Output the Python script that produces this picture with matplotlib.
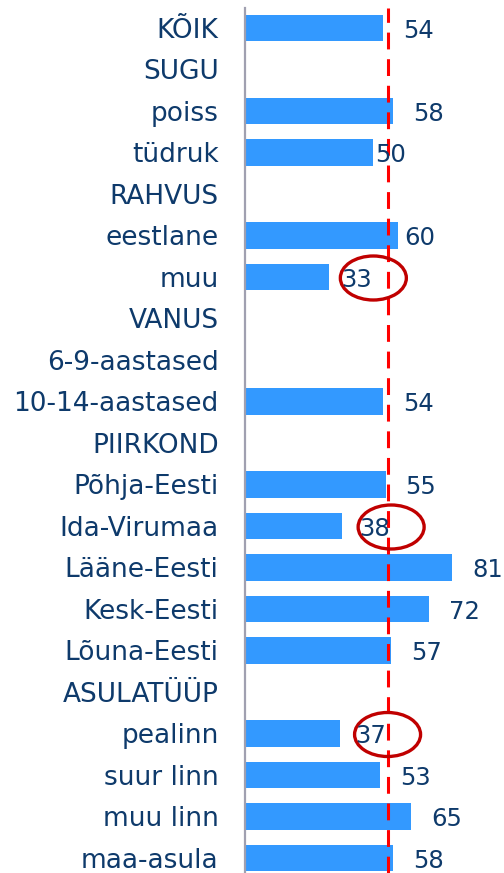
import matplotlib
matplotlib.use("Agg")
from matplotlib import pyplot as plt
from matplotlib.patches import Ellipse
import numpy as np

# kategooriad ülevalt alla, None = päise rida ilma tulbata
categories = ["KÕIK", "SUGU", "poiss", "tüdruk", "RAHVUS", "eestlane", "muu",
              "VANUS", "6-9-aastased", "10-14-aastased", "PIIRKOND", "Põhja-Eesti",
              "Ida-Virumaa", "Lääne-Eesti", "Kesk-Eesti", "Lõuna-Eesti",
              "ASULATÜÜP", "pealinn", "suur linn", "muu linn", "maa-asula"]
values = [54, None, 58, 50, None, 60, 33, None, None, 54, None, 55,
          38, 81, 72, 57, None, 37, 53, 65, 58]
average = 56
circled = ["muu", "Ida-Virumaa", "pealinn"]

# peaaegu kõik sildid on ~20px kaugusel, mõned erandid
label_offset = {"tüdruk": 2, "eestlane": 6, "muu": 12, "Ida-Virumaa": 17, "pealinn": 16}

bar_color = "#3399FF"
text_color = "#0E3A6B"

W, H = 504, 873
fig = plt.figure(figsize=(W / 100, H / 100), dpi=100)
ax = fig.add_axes([245 / W, 0, 1 - 245 / W, 1 - 8 / H])

n = len(categories)
y = np.arange(n)
step = (858 - 28) / (n - 1)
top = (8 - 28) / step
bottom = (H - 28) / step
ax.set_ylim(bottom, top)
ax.set_xlim(0, (W - 245) / 2.556)

for i, (cat, v) in enumerate(zip(categories, values)):
    if v is None:
        continue
    ax.barh(i, v, height=0.63, color=bar_color, zorder=2)
    off = label_offset.get(cat, 20)
    ax.annotate(str(v), (v, i), xytext=(off, -3), textcoords="offset pixels",
                ha="left", va="center", fontsize=17.5, color=text_color, zorder=5)
    if cat in circled:
        # ellips ümber väärtuse
        x0, y0 = ax.transData.transform((v, i))
        cx = x0 + off + 32
        cy = y0 - 1
        inv = ax.transData.inverted()
        (dx0, dy0) = inv.transform((cx - 33, cy - 22))
        (dx1, dy1) = inv.transform((cx + 33, cy + 22))
        e = Ellipse(((dx0 + dx1) / 2, (dy0 + dy1) / 2), abs(dx1 - dx0), abs(dy1 - dy0),
                    fill=False, edgecolor="#C00000", lw=2.4, zorder=4)
        ax.add_patch(e)

ax.axvline(average, color="#FF0000", lw=2.2, dashes=(5.5, 3.2), zorder=3)

ax.set_yticks(y)
ax.set_yticklabels(categories, fontsize=19, color=text_color)
ax.tick_params(axis="y", length=0, pad=19)
ax.set_xticks([])
for s in ["top", "right", "bottom"]:
    ax.spines[s].set_visible(False)
ax.spines["left"].set_color("#A0A0B0")
ax.spines["left"].set_linewidth(1.6)

fig.savefig("out.png", dpi=100)
